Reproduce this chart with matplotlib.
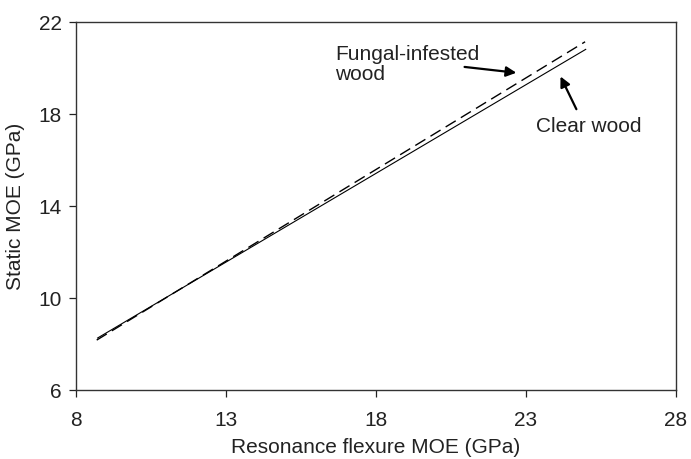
import matplotlib
matplotlib.use("Agg")
import matplotlib.pyplot as plt

plt.rcParams['font.family'] = ['Liberation Sans', 'DejaVu Sans']

# regression lines (end points)
clear_x = [8.73, 25.0]
clear_y = [8.26, 20.81]
fungal_x = [8.70, 24.98]
fungal_y = [8.17, 21.14]

xticks = [8, 13, 18, 23, 28]
yticks = [6, 10, 14, 18, 22]

fs = 15

fig = plt.figure(figsize=(6.91, 4.59), dpi=100)
ax = fig.add_axes([75.7/691, 1 - 390/459, 600/691, 368/459])

ax.plot(clear_x, clear_y, color='black', lw=0.8)
ax.plot(fungal_x, fungal_y, color='black', lw=1.0, dashes=(8.5, 4.3))

ax.set_xlim(8, 28)
ax.set_ylim(6, 22)
ax.set_xticks(xticks)
ax.set_yticks(yticks)
ax.tick_params(direction='out', length=5, width=0.9, labelsize=fs, colors='#222222')
ax.tick_params(axis='x', pad=10)
ax.tick_params(axis='y', pad=5)
for s in ax.spines.values():
    s.set_linewidth(1.0)
    s.set_color('#333333')

ax.set_xlabel('Resonance flexure MOE (GPa)', fontsize=fs, color='#222222', labelpad=6)
ax.set_ylabel('Static MOE (GPa)', fontsize=fs, color='#222222', labelpad=10)

ax.annotate('', xy=(22.78, 19.78), xytext=(20.87, 20.06),
            arrowprops=dict(arrowstyle='-|>', color='black', lw=1.6, mutation_scale=15))
ax.annotate('', xy=(24.12, 19.74), xytext=(24.73, 18.1),
            arrowprops=dict(arrowstyle='-|>', color='black', lw=1.6, mutation_scale=15))
ax.text(16.64, 21.0, 'Fungal-infested\nwood', fontsize=fs, va='top', ha='left',
        color='#222222', linespacing=1.05)
ax.text(23.34, 17.23, 'Clear wood', fontsize=fs, va='baseline', ha='left', color='#222222')

fig.savefig('out.png', dpi=100)
